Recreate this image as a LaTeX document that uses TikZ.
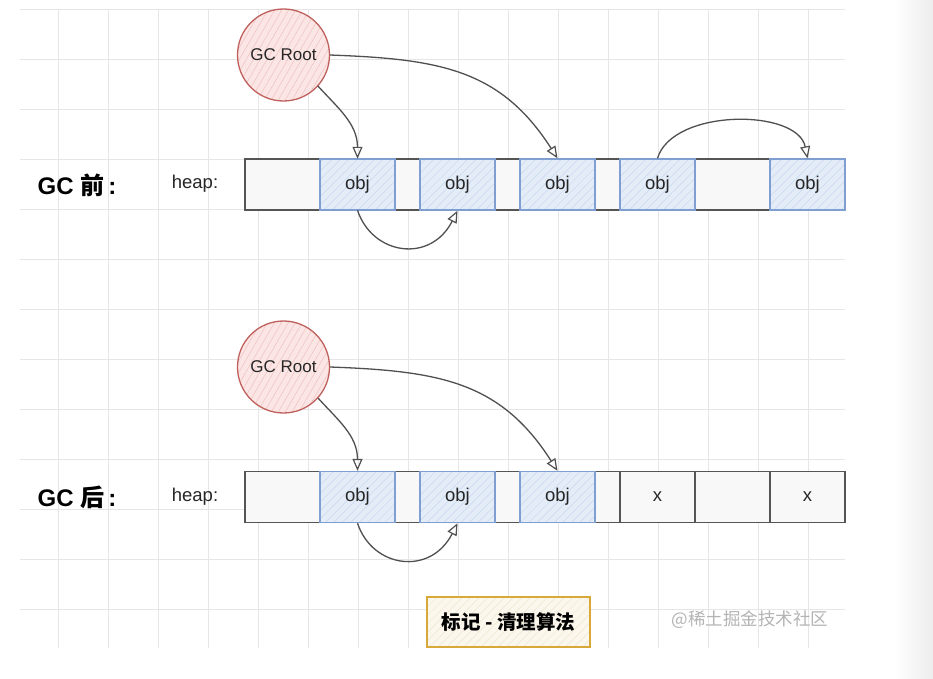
\documentclass[tikz,border=0pt]{standalone}
\usepackage{fontspec}
\setmainfont{Liberation Sans}
\newfontfamily\cjk{Noto Sans CJK SC}
\usetikzlibrary{arrows.meta,patterns.meta}
\definecolor{gridc}{HTML}{E6E6E6}
\definecolor{objfill}{HTML}{E4ECF8}
\definecolor{objhatch}{HTML}{C9D8EE}
\definecolor{objline}{HTML}{7F9ED2}
\definecolor{rootfill}{HTML}{FBE6E5}
\definecolor{roothatch}{HTML}{EDC2C0}
\definecolor{rootline}{HTML}{C0605D}
\definecolor{cellline}{HTML}{555555}
\definecolor{cellfill}{HTML}{F8F8F8}
\definecolor{arrowc}{HTML}{505050}
\definecolor{capfill}{HTML}{FCF7EC}
\definecolor{caphatch}{HTML}{EFE6D2}
\definecolor{capline}{HTML}{D8A938}
\definecolor{wmc}{HTML}{B4B4B4}
\tikzset{
  txt/.style={font=\fontsize{18.5}{18.5}\selectfont, text=black!85},
  cellbox/.style={draw=cellline, fill=cellfill, line width=1.4pt, minimum height=51pt, inner sep=0pt, txt},
  objbox/.style={draw=objline, line width=1.4pt, preaction={fill=objfill},
    pattern={Lines[angle=45,distance=6pt,line width=0.5pt]}, pattern color=objhatch,
    minimum width=75pt, minimum height=51pt, inner sep=0pt, txt},
  rootnode/.style={circle, draw=rootline, line width=1.3pt, preaction={fill=rootfill},
    pattern={Lines[angle=60,distance=6pt,line width=0.5pt]}, pattern color=roothatch,
    minimum size=92pt, inner sep=0pt, font=\fontsize{17}{17}\selectfont, text=black!85},
  link/.style={draw=arrowc, line width=1.3pt, -{Triangle[open,length=12pt,width=10pt,line width=1.2pt]}},
  gclabel/.style={font=\fontsize{24}{24}\selectfont\bfseries},
  capbox/.style={draw=capline, line width=1.5pt, preaction={fill=capfill},
    pattern={Lines[angle=45,distance=6pt,line width=0.5pt]}, pattern color=caphatch,
    minimum width=163pt, minimum height=50pt, inner sep=0pt,
    font=\fontsize{19.5}{19.5}\selectfont\cjk\bfseries},
}
\begin{document}
\begin{tikzpicture}[x=1pt,y=1pt]
\useasboundingbox (0,0) rectangle (933,-678);
\fill[white] (0,0) rectangle (933,-678);
\shade[left color=white, right color=black!7] (893,0) rectangle (933,-678);
% grid
\foreach \gx in {58,108,...,808} \draw[gridc, line width=1pt] (\gx,-9) -- (\gx,-648);
\foreach \gy in {9,59,...,609} \draw[gridc, line width=1pt] (20,-\gy) -- (845,-\gy);

% labels
\node[gclabel] (lt) at (77,-185) {GC {\cjk 前}\,:};
\node[txt] (ht) at (195,-184) {heap:};
\node[gclabel] (lb) at (77,-497) {GC {\cjk 后}\,:};
\node[txt] (hb) at (195,-497) {heap:};

% top heap
\node[cellbox, minimum width=75pt] (t1) at (282.5,-184.5) {};
\node[cellbox, minimum width=25pt] (t3) at (407.5,-184.5) {};
\node[cellbox, minimum width=25pt] (t5) at (507.5,-184.5) {};
\node[cellbox, minimum width=25pt] (t7) at (607.5,-184.5) {};
\node[cellbox, minimum width=75pt] (t9) at (732.5,-184.5) {};
\node[objbox] (t2) at (357.5,-184.5) {obj};
\node[objbox] (t4) at (457.5,-184.5) {obj};
\node[objbox] (t6) at (557.5,-184.5) {obj};
\node[objbox] (t8) at (657.5,-184.5) {obj};
\node[objbox] (t10) at (807.5,-184.5) {obj};

% bottom heap
\node[cellbox, minimum width=75pt] (b1) at (282.5,-497) {};
\node[cellbox, minimum width=25pt] (b3) at (407.5,-497) {};
\node[cellbox, minimum width=25pt] (b5) at (507.5,-497) {};
\node[cellbox, minimum width=25pt] (b7) at (607.5,-497) {};
\node[cellbox, minimum width=75pt] (b9) at (732.5,-497) {};
\node[cellbox, minimum width=75pt] (b8) at (657.5,-497) {x};
\node[cellbox, minimum width=75pt] (b10) at (807.5,-497) {x};
\node[objbox] (b2) at (357.5,-497) {obj};
\node[objbox] (b4) at (457.5,-497) {obj};
\node[objbox] (b6) at (557.5,-497) {obj};

% roots
\node[rootnode] (rtop) at (283.5,-55) {GC Root};
\node[rootnode] (rbot) at (283.5,-367) {GC Root};

% top arrows
\draw[link] (rtop.-42) .. controls +(20,-22) and +(0,35) .. (t2.north);
\draw[link] (rtop.east) .. controls +(110,-4) and +(-57,89) .. (t6.north);
\draw[link] (t8.north) .. controls +(15,50) and +(-10,50) .. (t10.north);
\draw[link] (t2.south) .. controls +(15,-45) and +(-27,-53) .. (t4.south);

% bottom arrows
\draw[link] (rbot.-42) .. controls +(20,-22) and +(0,35) .. (b2.north);
\draw[link] (rbot.east) .. controls +(110,-4) and +(-57,89) .. (b6.north);
\draw[link] (b2.south) .. controls +(15,-45) and +(-27,-53) .. (b4.south);

% caption and watermark
\node[capbox] (cap) at (508.5,-622) {标记 - 清理算法};
\node[font=\fontsize{17.5}{17.5}\selectfont\cjk, text=wmc] (wm) at (750,-620) {@稀土掘金技术社区};
\end{tikzpicture}
\end{document}
